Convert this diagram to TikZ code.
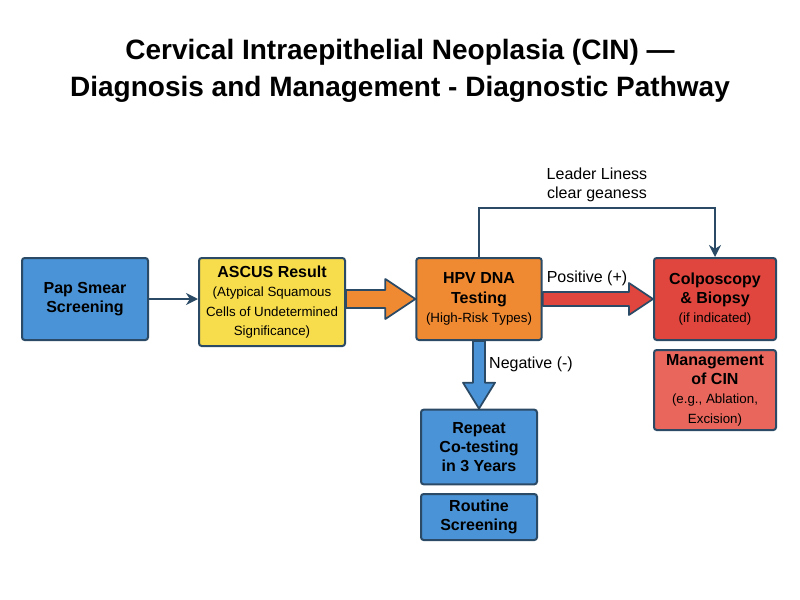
\documentclass[tikz,border=0pt]{standalone}
\usepackage{fontspec}
\setmainfont{Liberation Sans}
\usetikzlibrary{arrows.meta,calc}
\definecolor{edge}{HTML}{2B4A66}
\definecolor{cblue}{HTML}{4A93D6}
\definecolor{cyel}{HTML}{F7DC4C}
\definecolor{corg}{HTML}{F08A32}
\definecolor{cred}{HTML}{E0463D}
\definecolor{cred2}{HTML}{E8665C}
\newcommand{\bt}{\bfseries\fontsize{12}{14.5}\selectfont}
\newcommand{\sm}{\mdseries\fontsize{10}{13}\selectfont}
\begin{document}
\begin{tikzpicture}[x=0.75pt,y=-0.75pt,
box/.style={draw=edge,line width=1.5pt,rounded corners=2pt,align=center,inner sep=0pt},
lbl/.style={align=center,font=\bt},
fat/.style={draw=edge,line width=1.3pt,line join=round}]
\useasboundingbox (0,0) rectangle (800,600);
\fill[white] (0,0) rectangle (800,600);
\node[font=\bfseries\fontsize{21}{28}\selectfont,align=center] (title) at (400,71) {Cervical Intraepithelial Neoplasia (CIN) —\\Diagnosis and Management - Diagnostic Pathway};
\node[box,fill=cblue,minimum width=94.5pt,minimum height=61.5pt] (pap) at (85,299) {};
\node[lbl] (papt) at (pap) {Pap Smear\\Screening};
\node[box,fill=cyel,minimum width=109.5pt,minimum height=66pt] (ascus) at (272,302) {};
\node[lbl] (ascust) at (ascus) {ASCUS Result\\\sm (Atypical Squamous\\\sm Cells of Undetermined\\\sm Significance)};
\node[box,fill=corg,minimum width=94pt,minimum height=61.5pt] (hpv) at (479,299) {};
\node[lbl] (hpvt) at (hpv) {HPV DNA\\Testing\\\sm (High-Risk Types)};
\node[box,fill=cred,minimum width=91.5pt,minimum height=61.5pt] (colpo) at (715,299) {};
\node[lbl] (colpot) at (colpo) {Colposcopy\\\& Biopsy\\\sm (if indicated)};
\node[box,fill=cred2,minimum width=91.5pt,minimum height=60pt] (mgmt) at (715,390) {};
\node[lbl] (mgmtt) at (mgmt) {Management\\of CIN\\\sm (e.g., Ablation,\\\sm Excision)};
\node[box,fill=cblue,minimum width=87pt,minimum height=56pt] (rep) at (479,447) {};
\node[lbl] (rept) at (rep) {Repeat\\Co-testing\\in 3 Years};
\node[box,fill=cblue,minimum width=87pt,minimum height=34.5pt] (rout) at (479,517) {};
\node[lbl] (routt) at (rout) {Routine\\Screening};
\draw[edge,line width=1.5pt,-{Stealth[length=9pt,width=9pt]}] (pap.east) -- (pap.east -| ascus.west);
\coordinate (ae) at (ascus.east |- hpv.west);
\draw[fat,fill=corg] ($(ae)+(0,-9)$) -- ($(hpv.west)+(-30,-9)$) -- ($(hpv.west)+(-30,-20)$) -- (hpv.west) -- ($(hpv.west)+(-30,20)$) -- ($(hpv.west)+(-30,9)$) -- ($(ae)+(0,9)$) -- cycle;
\draw[fat,fill=cred] ($(hpv.east)+(0,-7)$) -- ($(colpo.west)+(-24,-7)$) -- ($(colpo.west)+(-24,-16)$) -- (colpo.west) -- ($(colpo.west)+(-24,16)$) -- ($(colpo.west)+(-24,7)$) -- ($(hpv.east)+(0,7)$) -- cycle;
\draw[fat,fill=cblue] ($(hpv.south)+(-6,0)$) -- ($(rep.north)+(-6,-26)$) -- ($(rep.north)+(-16,-26)$) -- (rep.north) -- ($(rep.north)+(16,-26)$) -- ($(rep.north)+(6,-26)$) -- ($(hpv.south)+(6,0)$) -- cycle;
\coordinate (c1) at (hpv.north |- 0,208);
\coordinate (c2) at (colpo.north |- 0,208);
\draw[edge,line width=1.5pt,-{Stealth[length=9pt,width=9pt]}] (hpv.north) -- (c1) -- (c2) -- (colpo.north);
\node[align=center,font=\fontsize{12}{14}\selectfont] (lead) at (597,185) {Leader Liness\\clear geaness};
\node[font=\fontsize{12}{14}\selectfont] (pos) at (587,278) {Positive (+)};
\node[font=\fontsize{12}{14}\selectfont] (neg) at (531,364) {Negative (-)};
\end{tikzpicture}
\end{document}
